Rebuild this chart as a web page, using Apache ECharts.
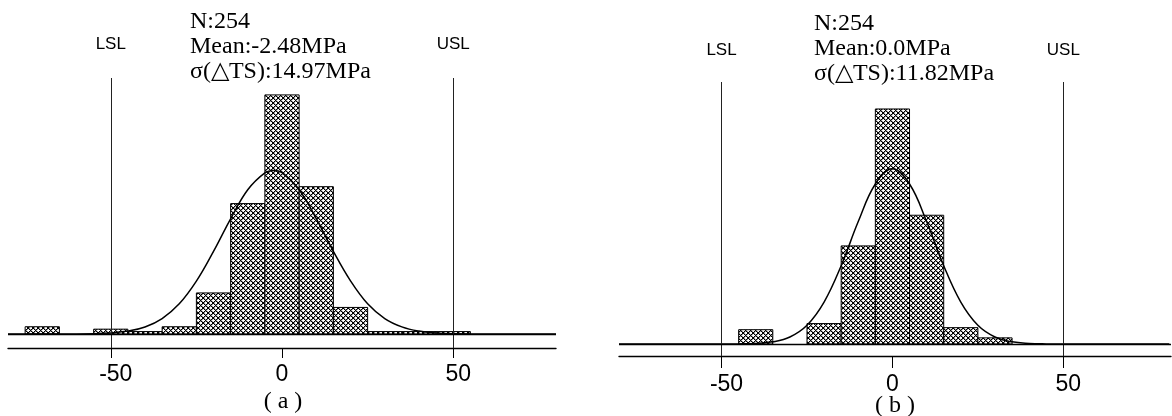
<!DOCTYPE html>
<html><head><meta charset="utf-8">
<script src="https://cdn.jsdelivr.net/npm/echarts@6/dist/echarts.min.js"></script>
<style>html,body{margin:0;padding:0;background:#fff}#c{width:1172px;height:416px}</style>
</head><body><div id="c"></div>
<script>
// ---------- data ----------
const binWidth = 10;
const binCentersA = [-70, -60, -50, -40, -30, -20, -10, 0, 10, 20, 30, 40, 50];
const countsA     = [3, 0, 2, 1, 3, 17, 54, 99, 61, 11, 1, 1, 1];
const binCentersB = [-40, -30, -20, -10, 0, 10, 20, 30];
const countsB     = [7, 0, 10, 48, 115, 63, 8, 3];

const curveXA = [-80, -70, -60, -50, -45, -40, -35, -30, -25, -20, -15, -10, -5, -2.5, 0, 5, 10, 15, 20, 25, 30, 35, 40, 45, 50, 60, 70, 80];
const curveYA = [0, 0, 0.04, 0.44, 1.2, 2.9, 6.4, 12.5, 21.9, 34.2, 47.7, 59.7, 66.7, 67.7, 66.8, 59.7, 47.8, 34.2, 22.0, 12.5, 6.4, 2.95, 1.2, 0.44, 0.14, 0.01, 0, 0];
const curveXB = [-80, -60, -50, -45, -40, -35, -30, -25, -20, -15, -10, -5, 0, 5, 10, 15, 20, 25, 30, 35, 40, 45, 50, 60, 81];
const curveYB = [0, 0, 0.01, 0.06, 0.28, 1.07, 3.42, 9.15, 20.5, 38.3, 59.9, 78.3, 85.7, 78.3, 59.9, 38.3, 20.5, 9.15, 3.42, 1.07, 0.28, 0.06, 0.01, 0, 0];

const tickValues = [-50, 0, 50];
const LSL = -50, USL = 50;
const statsA = ['N:254', 'Mean:-2.48MPa', 'σ(△TS):14.97MPa'];
const statsB = ['N:254', 'Mean:0.0MPa', 'σ(△TS):11.82MPa'];
const captions = ['( a )', '( b )'];

// ---------- helpers ----------
function makeHatch() {
  const p = 5, c = document.createElement('canvas');
  c.width = p; c.height = p;
  const ctx = c.getContext('2d');
  const img = ctx.createImageData(p, p);
  for (let y = 0; y < p; y++) for (let x = 0; x < p; x++) {
    const a = (x + y) % p, b = ((x - y) % p + p) % p;
    let v = 255;
    if (a === 0 || b === 0) v = 0;
    else if (a === 1 || b === 1) v = 150;
    const i = (y * p + x) * 4;
    img.data[i] = img.data[i + 1] = img.data[i + 2] = v; img.data[i + 3] = 255;
  }
  ctx.putImageData(img, 0, 0);
  return c;
}
const hatch = makeHatch();

function zip(a, b) { return a.map((v, i) => [v, b[i]]); }

function barSeries(idx, centers, counts) {
  return {
    type: 'custom', xAxisIndex: idx, yAxisIndex: idx, z: 2,
    data: zip(centers, counts),
    renderItem: function (params, api) {
      const c = api.value(0), v = api.value(1);
      if (!v) return;
      const p0 = api.coord([c - binWidth / 2, v]);
      const p1 = api.coord([c + binWidth / 2, 0]);
      return {
        type: 'rect',
        shape: { x: p0[0], y: p0[1], width: p1[0] - p0[0], height: p1[1] - p0[1] },
        style: { fill: { image: hatch, repeat: 'repeat' }, stroke: '#000', lineWidth: 1 }
      };
    }
  };
}

function curveSeries(idx, xs, ys, labelDist) {
  return {
    type: 'line', xAxisIndex: idx, yAxisIndex: idx, z: 3,
    data: zip(xs, ys), smooth: 0.4, showSymbol: false, symbol: 'none',
    lineStyle: { color: '#000', width: 1.5 }, animation: false,
    markLine: {
      silent: true, symbol: 'none', animation: false,
      lineStyle: { color: '#222', width: 1, type: 'solid' },
      label: { show: true, position: 'end', color: '#000', fontSize: 17,
               fontFamily: '"Liberation Sans", Arial, sans-serif', distance: labelDist },
      data: [
        { xAxis: LSL, label: { formatter: 'LSL' } },
        { xAxis: USL, label: { formatter: 'USL' } },
        { yAxis: 0, label: { show: false }, lineStyle: { width: 1.4, color: '#000' } }
      ]
    }
  };
}

function xAxis(idx, min, max, tickLen, margin) {
  return {
    gridIndex: idx, type: 'value', min: min, max: max,
    axisLine: { show: true, onZero: false, lineStyle: { color: '#000', width: 1.4 } },
    axisTick: { show: true, customValues: tickValues, length: tickLen, lineStyle: { color: '#000', width: 1 } },
    axisLabel: {
      show: true, customValues: tickValues, fontSize: 23, color: '#000', margin: margin,
      fontFamily: '"Liberation Sans", Arial, sans-serif',
      formatter: function (v) { return v === 0 ? '{z|0}' : '{o|' + v + '}'; },
      rich: {
        z: { fontSize: 23, color: '#000', fontFamily: '"Liberation Sans", Arial, sans-serif' },
        o: { fontSize: 23, color: '#000', fontFamily: '"Liberation Sans", Arial, sans-serif', padding: [0, 0, 0, 10] }
      }
    },
    splitLine: { show: false }
  };
}

const chart = echarts.init(document.getElementById('c'), null, { renderer: 'canvas' });
const serif = '"Liberation Serif", "Times New Roman", serif';
chart.setOption({
  animation: false,
  backgroundColor: '#fff',
  grid: [
    { left: 8, width: 548, top: 78, height: 270 },
    { left: 619, width: 552, top: 82, height: 274 }
  ],
  xAxis: [xAxis(0, -80, 80, 10, 15), xAxis(1, -80, 81.5, 12, 17)],
  yAxis: [
    { gridIndex: 0, type: 'value', min: -5.8, max: 106, show: false, splitLine: { show: false } },
    { gridIndex: 1, type: 'value', min: -5.87, max: 128.2, show: false, splitLine: { show: false } }
  ],
  series: [
    barSeries(0, binCentersA, countsA),
    curveSeries(0, curveXA, curveYA, 25),
    barSeries(1, binCentersB, countsB),
    curveSeries(1, curveXB, curveYB, 23)
  ],
  graphic: [
    { type: 'text', x: 190, y: 9, style: { text: statsA.join('\n'), font: '24px ' + serif, lineHeight: 25, fill: '#000' } },
    { type: 'text', x: 814, y: 11, style: { text: statsB.join('\n'), font: '24px ' + serif, lineHeight: 25, fill: '#000' } },
    { type: 'text', x: 283, y: 402, style: { text: captions[0], font: '24px ' + serif, align: 'center', verticalAlign: 'middle', fill: '#000' } },
    { type: 'text', x: 895, y: 406, style: { text: captions[1], font: '24px ' + serif, align: 'center', verticalAlign: 'middle', fill: '#000' } }
  ]
});
</script>
</body></html>
